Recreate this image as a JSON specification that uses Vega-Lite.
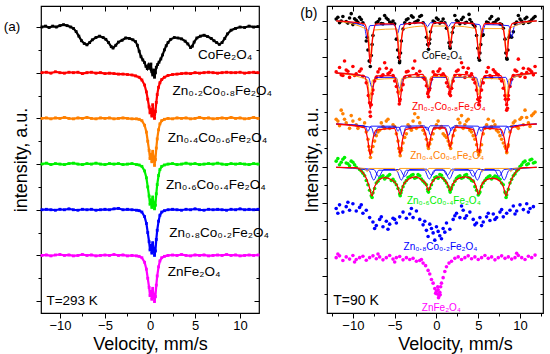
{
"$schema": "https://vega.github.io/schema/vega-lite/v6.json",
"padding": {"left": 3, "top": 4, "right": 2, "bottom": 2},
"background": "white",
"bounds": "flush",
"spacing": 68,
"config": {
 "font": "Liberation Sans",
 "view": {"stroke": "#000", "strokeWidth": 1.2},
 "axis": {"grid": false, "domain": false, "tickColor": "#000", "tickWidth": 1, "labelColor": "#000", "labelFontSize": 13, "labelFont": "Liberation Sans", "titleFont": "Liberation Sans", "titleFontSize": 18, "titleFontWeight": "normal", "titleColor": "#000", "labelPadding": 1, "labelFlush": false}
},
"datasets": {
"L": [
{"s":"k","x":-12,"y":6.0},{"s":"k","x":-11.6,"y":6.02},{"s":"k","x":-11.2,"y":5.99},{"s":"k","x":-10.8,"y":6.02},{"s":"k","x":-10.4,"y":6.0},{"s":"k","x":-10,"y":6.03},{"s":"k","x":-9.6,"y":6.05},{"s":"k","x":-9.2,"y":6.03},{"s":"k","x":-8.8,"y":6.0},{"s":"k","x":-8.5,"y":5.97},{"s":"k","x":-8.2,"y":5.9},{"s":"k","x":-7.9,"y":5.8},{"s":"k","x":-7.6,"y":5.7},{"s":"k","x":-7.3,"y":5.64},{"s":"k","x":-7,"y":5.61},{"s":"k","x":-6.7,"y":5.66},{"s":"k","x":-6.4,"y":5.72},{"s":"k","x":-6,"y":5.77},{"s":"k","x":-5.6,"y":5.8},{"s":"k","x":-5.2,"y":5.77},{"s":"k","x":-4.9,"y":5.73},{"s":"k","x":-4.6,"y":5.66},{"s":"k","x":-4.3,"y":5.57},{"s":"k","x":-4.1,"y":5.54},{"s":"k","x":-3.8,"y":5.6},{"s":"k","x":-3.5,"y":5.67},{"s":"k","x":-3.1,"y":5.71},{"s":"k","x":-2.7,"y":5.76},{"s":"k","x":-2.3,"y":5.75},{"s":"k","x":-1.9,"y":5.72},{"s":"k","x":-1.6,"y":5.68},{"s":"k","x":-1.4,"y":5.6},{"s":"k","x":-1.2,"y":5.47},{"s":"k","x":-1,"y":5.35},{"s":"k","x":-0.8,"y":5.28},{"s":"k","x":-0.6,"y":5.22},{"s":"k","x":-0.45,"y":5.14},{"s":"k","x":-0.3,"y":5.09},{"s":"k","x":-0.15,"y":5.17},{"s":"k","x":0,"y":5.1},{"s":"k","x":0.1,"y":5.19},{"s":"k","x":0.2,"y":5.02},{"s":"k","x":0.3,"y":4.95},{"s":"k","x":0.4,"y":5.06},{"s":"k","x":0.5,"y":4.9},{"s":"k","x":0.6,"y":5.0},{"s":"k","x":0.7,"y":5.12},{"s":"k","x":0.85,"y":5.18},{"s":"k","x":1,"y":5.23},{"s":"k","x":1.2,"y":5.3},{"s":"k","x":1.4,"y":5.39},{"s":"k","x":1.6,"y":5.5},{"s":"k","x":1.8,"y":5.59},{"s":"k","x":2,"y":5.66},{"s":"k","x":2.3,"y":5.73},{"s":"k","x":2.7,"y":5.77},{"s":"k","x":3.1,"y":5.76},{"s":"k","x":3.5,"y":5.74},{"s":"k","x":3.9,"y":5.69},{"s":"k","x":4.2,"y":5.63},{"s":"k","x":4.5,"y":5.55},{"s":"k","x":4.7,"y":5.58},{"s":"k","x":4.9,"y":5.67},{"s":"k","x":5.2,"y":5.76},{"s":"k","x":5.6,"y":5.8},{"s":"k","x":6,"y":5.82},{"s":"k","x":6.4,"y":5.79},{"s":"k","x":6.8,"y":5.75},{"s":"k","x":7.1,"y":5.7},{"s":"k","x":7.4,"y":5.66},{"s":"k","x":7.7,"y":5.62},{"s":"k","x":8,"y":5.66},{"s":"k","x":8.3,"y":5.75},{"s":"k","x":8.6,"y":5.85},{"s":"k","x":9,"y":5.93},{"s":"k","x":9.5,"y":5.97},{"s":"k","x":10,"y":6.0},{"s":"k","x":10.5,"y":5.99},{"s":"k","x":11,"y":6.02},{"s":"k","x":11.5,"y":6.0},{"s":"k","x":12,"y":6.01},
{"s":"r","x":-12,"y":5.0},{"s":"r","x":-11.5,"y":5.01},{"s":"r","x":-11,"y":4.99},{"s":"r","x":-10.5,"y":5.02},{"s":"r","x":-10,"y":5.0},{"s":"r","x":-9.5,"y":4.99},{"s":"r","x":-9,"y":5.01},{"s":"r","x":-8.5,"y":5.0},{"s":"r","x":-8,"y":5.01},{"s":"r","x":-7.5,"y":4.98},{"s":"r","x":-7,"y":5.0},{"s":"r","x":-6.5,"y":5.01},{"s":"r","x":-6,"y":4.99},{"s":"r","x":-5.5,"y":5.0},{"s":"r","x":-5,"y":4.98},{"s":"r","x":-4.5,"y":4.99},{"s":"r","x":-4,"y":4.98},{"s":"r","x":-3.5,"y":4.97},{"s":"r","x":-3,"y":4.97},{"s":"r","x":-2.5,"y":4.96},{"s":"r","x":-2,"y":4.95},{"s":"r","x":-1.6,"y":4.93},{"s":"r","x":-1.2,"y":4.9},{"s":"r","x":-0.9,"y":4.84},{"s":"r","x":-0.6,"y":4.73},{"s":"r","x":-0.4,"y":4.58},{"s":"r","x":-0.25,"y":4.42},{"s":"r","x":-0.1,"y":4.25},{"s":"r","x":0,"y":4.12},{"s":"r","x":0.1,"y":4.2},{"s":"r","x":0.2,"y":4.05},{"s":"r","x":0.3,"y":4.3},{"s":"r","x":0.4,"y":4.1},{"s":"r","x":0.5,"y":4.0},{"s":"r","x":0.6,"y":4.15},{"s":"r","x":0.7,"y":4.35},{"s":"r","x":0.8,"y":4.52},{"s":"r","x":0.95,"y":4.68},{"s":"r","x":1.1,"y":4.78},{"s":"r","x":1.3,"y":4.85},{"s":"r","x":1.6,"y":4.9},{"s":"r","x":2,"y":4.94},{"s":"r","x":2.5,"y":4.96},{"s":"r","x":3,"y":4.97},{"s":"r","x":3.5,"y":4.98},{"s":"r","x":4,"y":4.99},{"s":"r","x":4.5,"y":4.98},{"s":"r","x":5,"y":5.0},{"s":"r","x":5.5,"y":4.99},{"s":"r","x":6,"y":5.0},{"s":"r","x":6.5,"y":5.01},{"s":"r","x":7,"y":5.0},{"s":"r","x":7.5,"y":4.99},{"s":"r","x":8,"y":5.0},{"s":"r","x":8.5,"y":5.01},{"s":"r","x":9,"y":5.0},{"s":"r","x":9.5,"y":5.0},{"s":"r","x":10,"y":5.01},{"s":"r","x":10.5,"y":4.99},{"s":"r","x":11,"y":5.0},{"s":"r","x":11.5,"y":5.01},{"s":"r","x":12,"y":5.0},
{"s":"o","x":-12,"y":4.0},{"s":"o","x":-11.5,"y":4.01},{"s":"o","x":-11,"y":3.99},{"s":"o","x":-10.5,"y":4.01},{"s":"o","x":-10,"y":4.0},{"s":"o","x":-9.5,"y":4.02},{"s":"o","x":-9,"y":4.0},{"s":"o","x":-8.5,"y":3.99},{"s":"o","x":-8,"y":4.01},{"s":"o","x":-7.5,"y":4.0},{"s":"o","x":-7,"y":4.02},{"s":"o","x":-6.5,"y":4.0},{"s":"o","x":-6,"y":3.99},{"s":"o","x":-5.5,"y":4.01},{"s":"o","x":-5,"y":4.0},{"s":"o","x":-4.5,"y":4.01},{"s":"o","x":-4,"y":3.99},{"s":"o","x":-3.5,"y":4.0},{"s":"o","x":-3,"y":4.01},{"s":"o","x":-2.5,"y":4.0},{"s":"o","x":-2,"y":3.99},{"s":"o","x":-1.5,"y":3.99},{"s":"o","x":-1.2,"y":3.98},{"s":"o","x":-0.9,"y":3.95},{"s":"o","x":-0.6,"y":3.85},{"s":"o","x":-0.4,"y":3.7},{"s":"o","x":-0.25,"y":3.5},{"s":"o","x":-0.1,"y":3.3},{"s":"o","x":0,"y":3.12},{"s":"o","x":0.1,"y":3.22},{"s":"o","x":0.2,"y":3.05},{"s":"o","x":0.3,"y":3.28},{"s":"o","x":0.4,"y":3.15},{"s":"o","x":0.5,"y":2.97},{"s":"o","x":0.6,"y":3.1},{"s":"o","x":0.7,"y":3.35},{"s":"o","x":0.8,"y":3.55},{"s":"o","x":0.95,"y":3.75},{"s":"o","x":1.1,"y":3.88},{"s":"o","x":1.3,"y":3.95},{"s":"o","x":1.6,"y":3.98},{"s":"o","x":2,"y":4.0},{"s":"o","x":2.5,"y":3.99},{"s":"o","x":3,"y":4.01},{"s":"o","x":3.5,"y":4.0},{"s":"o","x":4,"y":4.01},{"s":"o","x":4.5,"y":3.99},{"s":"o","x":5,"y":4.0},{"s":"o","x":5.5,"y":4.02},{"s":"o","x":6,"y":4.0},{"s":"o","x":6.5,"y":4.01},{"s":"o","x":7,"y":3.99},{"s":"o","x":7.5,"y":4.0},{"s":"o","x":8,"y":4.01},{"s":"o","x":8.5,"y":4.0},{"s":"o","x":9,"y":4.02},{"s":"o","x":9.5,"y":4.0},{"s":"o","x":10,"y":4.01},{"s":"o","x":10.5,"y":3.99},{"s":"o","x":11,"y":4.0},{"s":"o","x":11.5,"y":4.02},{"s":"o","x":12,"y":4.0},
{"s":"g","x":-12,"y":3.0},{"s":"g","x":-11.5,"y":3.02},{"s":"g","x":-11,"y":2.99},{"s":"g","x":-10.5,"y":3.01},{"s":"g","x":-10,"y":3.0},{"s":"g","x":-9.5,"y":2.99},{"s":"g","x":-9,"y":3.01},{"s":"g","x":-8.5,"y":3.02},{"s":"g","x":-8,"y":3.0},{"s":"g","x":-7.5,"y":2.99},{"s":"g","x":-7,"y":3.01},{"s":"g","x":-6.5,"y":3.0},{"s":"g","x":-6,"y":3.02},{"s":"g","x":-5.5,"y":3.0},{"s":"g","x":-5,"y":2.99},{"s":"g","x":-4.5,"y":3.01},{"s":"g","x":-4,"y":3.0},{"s":"g","x":-3.5,"y":3.01},{"s":"g","x":-3,"y":2.99},{"s":"g","x":-2.5,"y":3.0},{"s":"g","x":-2,"y":3.01},{"s":"g","x":-1.5,"y":2.99},{"s":"g","x":-1.2,"y":2.98},{"s":"g","x":-0.9,"y":2.95},{"s":"g","x":-0.6,"y":2.85},{"s":"g","x":-0.4,"y":2.7},{"s":"g","x":-0.25,"y":2.5},{"s":"g","x":-0.1,"y":2.3},{"s":"g","x":0,"y":2.12},{"s":"g","x":0.1,"y":2.22},{"s":"g","x":0.2,"y":2.05},{"s":"g","x":0.3,"y":2.28},{"s":"g","x":0.4,"y":2.15},{"s":"g","x":0.5,"y":2.02},{"s":"g","x":0.6,"y":2.1},{"s":"g","x":0.7,"y":2.35},{"s":"g","x":0.8,"y":2.55},{"s":"g","x":0.95,"y":2.75},{"s":"g","x":1.1,"y":2.88},{"s":"g","x":1.3,"y":2.95},{"s":"g","x":1.6,"y":2.98},{"s":"g","x":2,"y":3.0},{"s":"g","x":2.5,"y":3.01},{"s":"g","x":3,"y":2.99},{"s":"g","x":3.5,"y":3.0},{"s":"g","x":4,"y":3.02},{"s":"g","x":4.5,"y":3.0},{"s":"g","x":5,"y":3.01},{"s":"g","x":5.5,"y":2.99},{"s":"g","x":6,"y":3.0},{"s":"g","x":6.5,"y":3.01},{"s":"g","x":7,"y":3.0},{"s":"g","x":7.5,"y":3.02},{"s":"g","x":8,"y":3.0},{"s":"g","x":8.5,"y":2.99},{"s":"g","x":9,"y":3.01},{"s":"g","x":9.5,"y":3.0},{"s":"g","x":10,"y":3.01},{"s":"g","x":10.5,"y":3.0},{"s":"g","x":11,"y":2.99},{"s":"g","x":11.5,"y":3.01},{"s":"g","x":12,"y":3.0},
{"s":"b","x":-12,"y":2.0},{"s":"b","x":-11.5,"y":2.01},{"s":"b","x":-11,"y":2.0},{"s":"b","x":-10.5,"y":1.99},{"s":"b","x":-10,"y":2.01},{"s":"b","x":-9.5,"y":2.0},{"s":"b","x":-9,"y":2.02},{"s":"b","x":-8.5,"y":2.0},{"s":"b","x":-8,"y":1.99},{"s":"b","x":-7.5,"y":2.01},{"s":"b","x":-7,"y":2.0},{"s":"b","x":-6.5,"y":2.01},{"s":"b","x":-6,"y":1.99},{"s":"b","x":-5.5,"y":2.0},{"s":"b","x":-5,"y":2.01},{"s":"b","x":-4.5,"y":2.0},{"s":"b","x":-4,"y":2.02},{"s":"b","x":-3.5,"y":2.03},{"s":"b","x":-3,"y":2.0},{"s":"b","x":-2.5,"y":2.01},{"s":"b","x":-2,"y":2.0},{"s":"b","x":-1.5,"y":1.99},{"s":"b","x":-1.2,"y":1.98},{"s":"b","x":-0.9,"y":1.95},{"s":"b","x":-0.6,"y":1.85},{"s":"b","x":-0.4,"y":1.7},{"s":"b","x":-0.25,"y":1.5},{"s":"b","x":-0.1,"y":1.3},{"s":"b","x":0,"y":1.12},{"s":"b","x":0.1,"y":1.22},{"s":"b","x":0.2,"y":1.05},{"s":"b","x":0.3,"y":1.28},{"s":"b","x":0.4,"y":1.15},{"s":"b","x":0.5,"y":1.0},{"s":"b","x":0.6,"y":1.1},{"s":"b","x":0.7,"y":1.35},{"s":"b","x":0.8,"y":1.55},{"s":"b","x":0.95,"y":1.75},{"s":"b","x":1.1,"y":1.88},{"s":"b","x":1.3,"y":1.95},{"s":"b","x":1.6,"y":1.98},{"s":"b","x":2,"y":2.0},{"s":"b","x":2.5,"y":2.01},{"s":"b","x":3,"y":2.0},{"s":"b","x":3.5,"y":1.99},{"s":"b","x":4,"y":2.01},{"s":"b","x":4.5,"y":2.0},{"s":"b","x":5,"y":2.02},{"s":"b","x":5.5,"y":2.0},{"s":"b","x":6,"y":1.99},{"s":"b","x":6.5,"y":2.01},{"s":"b","x":7,"y":2.0},{"s":"b","x":7.5,"y":2.01},{"s":"b","x":8,"y":2.0},{"s":"b","x":8.5,"y":1.99},{"s":"b","x":9,"y":2.01},{"s":"b","x":9.5,"y":2.0},{"s":"b","x":10,"y":2.02},{"s":"b","x":10.5,"y":2.0},{"s":"b","x":11,"y":2.01},{"s":"b","x":11.5,"y":2.0},{"s":"b","x":12,"y":2.01},
{"s":"m","x":-12,"y":1.0},{"s":"m","x":-11.5,"y":1.01},{"s":"m","x":-11,"y":0.99},{"s":"m","x":-10.5,"y":1.01},{"s":"m","x":-10,"y":1.02},{"s":"m","x":-9.5,"y":1.0},{"s":"m","x":-9,"y":1.01},{"s":"m","x":-8.5,"y":0.99},{"s":"m","x":-8,"y":1.0},{"s":"m","x":-7.5,"y":1.02},{"s":"m","x":-7,"y":1.0},{"s":"m","x":-6.5,"y":1.01},{"s":"m","x":-6,"y":0.99},{"s":"m","x":-5.5,"y":1.0},{"s":"m","x":-5,"y":1.01},{"s":"m","x":-4.5,"y":1.0},{"s":"m","x":-4,"y":1.02},{"s":"m","x":-3.5,"y":1.0},{"s":"m","x":-3,"y":1.01},{"s":"m","x":-2.5,"y":0.99},{"s":"m","x":-2,"y":1.0},{"s":"m","x":-1.5,"y":0.99},{"s":"m","x":-1.2,"y":0.98},{"s":"m","x":-0.9,"y":0.95},{"s":"m","x":-0.6,"y":0.85},{"s":"m","x":-0.4,"y":0.7},{"s":"m","x":-0.25,"y":0.5},{"s":"m","x":-0.1,"y":0.3},{"s":"m","x":0,"y":0.12},{"s":"m","x":0.1,"y":0.22},{"s":"m","x":0.2,"y":0.04},{"s":"m","x":0.3,"y":0.28},{"s":"m","x":0.4,"y":0.14},{"s":"m","x":0.5,"y":-0.01},{"s":"m","x":0.6,"y":0.1},{"s":"m","x":0.7,"y":0.35},{"s":"m","x":0.8,"y":0.55},{"s":"m","x":0.95,"y":0.75},{"s":"m","x":1.1,"y":0.88},{"s":"m","x":1.3,"y":0.95},{"s":"m","x":1.6,"y":0.98},{"s":"m","x":2,"y":1.0},{"s":"m","x":2.5,"y":1.01},{"s":"m","x":3,"y":1.0},{"s":"m","x":3.5,"y":1.02},{"s":"m","x":4,"y":1.0},{"s":"m","x":4.5,"y":0.99},{"s":"m","x":5,"y":1.01},{"s":"m","x":5.5,"y":1.0},{"s":"m","x":6,"y":1.01},{"s":"m","x":6.5,"y":0.99},{"s":"m","x":7,"y":1.0},{"s":"m","x":7.5,"y":1.01},{"s":"m","x":8,"y":1.0},{"s":"m","x":8.5,"y":1.02},{"s":"m","x":9,"y":1.0},{"s":"m","x":9.5,"y":1.01},{"s":"m","x":10,"y":0.99},{"s":"m","x":10.5,"y":1.0},{"s":"m","x":11,"y":1.01},{"s":"m","x":11.5,"y":1.0},{"s":"m","x":12,"y":1.01}
],
"LL": [
{"t":"CoFe₂O₄","x":5.33,"y":5.38},{"t":"Zn₀.₂Co₀.₈Fe₂O₄","x":2.5,"y":4.59},{"t":"Zn₀.₄Co₀.₆Fe₂O₄","x":1.96,"y":3.57},{"t":"Zn₀.₆Co₀.₄Fe₂O₄","x":1.78,"y":2.55},{"t":"Zn₀.₈Co₀.₂Fe₂O₄","x":2.15,"y":1.5},{"t":"ZnFe₂O₄","x":1.96,"y":0.63},{"t":"T=293 K","x":-11.5,"y":0.0},{"t":"(a)","x":-16.24,"y":6.0}
],
"RP": [
{"s":"k","x":-12,"y":7.05},{"s":"k","x":-11.6,"y":6.95},{"s":"k","x":-11.2,"y":7.12},{"s":"k","x":-10.8,"y":6.98},{"s":"k","x":-10.4,"y":7.08},{"s":"k","x":-10,"y":6.9},{"s":"k","x":-9.6,"y":7.02},{"s":"k","x":-9.2,"y":7.1},{"s":"k","x":-8.8,"y":6.95},{"s":"k","x":-8.4,"y":6.45},{"s":"k","x":-8,"y":5.9},{"s":"k","x":-7.6,"y":6.6},{"s":"k","x":-7.2,"y":6.95},{"s":"k","x":-6.8,"y":7.05},{"s":"k","x":-6.4,"y":6.92},{"s":"k","x":-6,"y":7.08},{"s":"k","x":-5.6,"y":6.97},{"s":"k","x":-5.2,"y":7.0},{"s":"k","x":-4.8,"y":6.5},{"s":"k","x":-4.4,"y":5.9},{"s":"k","x":-4,"y":6.78},{"s":"k","x":-3.6,"y":7.03},{"s":"k","x":-3.2,"y":6.93},{"s":"k","x":-2.8,"y":7.1},{"s":"k","x":-2.4,"y":6.98},{"s":"k","x":-2,"y":7.12},{"s":"k","x":-1.6,"y":6.95},{"s":"k","x":-1.2,"y":6.55},{"s":"k","x":-0.8,"y":6.5},{"s":"k","x":-0.4,"y":7.0},{"s":"k","x":0,"y":7.08},{"s":"k","x":0.4,"y":6.94},{"s":"k","x":0.8,"y":7.05},{"s":"k","x":1.2,"y":6.8},{"s":"k","x":1.6,"y":6.3},{"s":"k","x":2,"y":6.82},{"s":"k","x":2.4,"y":7.02},{"s":"k","x":2.8,"y":6.92},{"s":"k","x":3.2,"y":7.1},{"s":"k","x":3.6,"y":6.96},{"s":"k","x":4,"y":7.04},{"s":"k","x":4.4,"y":6.9},{"s":"k","x":4.8,"y":6.6},{"s":"k","x":5.2,"y":6.12},{"s":"k","x":5.6,"y":6.62},{"s":"k","x":6,"y":6.97},{"s":"k","x":6.4,"y":7.06},{"s":"k","x":6.8,"y":6.95},{"s":"k","x":7.2,"y":7.02},{"s":"k","x":7.6,"y":6.92},{"s":"k","x":8,"y":6.8},{"s":"k","x":8.4,"y":5.98},{"s":"k","x":8.8,"y":6.6},{"s":"k","x":9.2,"y":6.7},{"s":"k","x":9.6,"y":6.97},{"s":"k","x":10,"y":7.05},{"s":"k","x":10.4,"y":6.93},{"s":"k","x":10.8,"y":7.1},{"s":"k","x":11.2,"y":6.98},{"s":"k","x":11.6,"y":7.08},
{"s":"k","x":-8.2,"y":6.2},{"s":"k","x":-8.05,"y":5.9},{"s":"k","x":-7.92,"y":5.75},{"s":"k","x":-7.8,"y":6.05},{"s":"k","x":-7.7,"y":6.35},{"s":"k","x":-4.65,"y":6.2},{"s":"k","x":-4.52,"y":6.0},{"s":"k","x":-4.42,"y":5.85},{"s":"k","x":-4.3,"y":6.12},{"s":"k","x":-4.2,"y":6.45},{"s":"k","x":-1.05,"y":6.35},{"s":"k","x":-0.95,"y":6.22},{"s":"k","x":-0.85,"y":6.38},{"s":"k","x":-0.7,"y":6.7},{"s":"k","x":1.5,"y":6.4},{"s":"k","x":1.64,"y":6.25},{"s":"k","x":1.75,"y":6.42},{"s":"k","x":1.9,"y":6.68},{"s":"k","x":4.95,"y":6.25},{"s":"k","x":5.05,"y":5.98},{"s":"k","x":5.15,"y":5.92},{"s":"k","x":5.3,"y":6.35},{"s":"k","x":8.2,"y":6.5},{"s":"k","x":8.3,"y":6.12},{"s":"k","x":8.45,"y":5.95},{"s":"k","x":8.55,"y":6.2},{"s":"k","x":8.7,"y":6.55},{"s":"k","x":9,"y":6.55},{"s":"k","x":-8.3,"y":6.55},{"s":"k","x":5.5,"y":6.6},{"s":"k","x":-10.2,"y":7.2},{"s":"k","x":3.9,"y":7.18},{"s":"k","x":-1.8,"y":7.15},{"s":"k","x":-11.8,"y":7.1},{"s":"k","x":11.8,"y":7.12},{"s":"k","x":-6.2,"y":7.15},{"s":"k","x":2.2,"y":7.15},{"s":"k","x":6.6,"y":7.12},{"s":"k","x":-3,"y":7.14},{"s":"k","x":9.8,"y":7.15},
{"s":"k","x":-11.4,"y":7.0},{"s":"k","x":-10.6,"y":6.94},{"s":"k","x":-9.8,"y":7.06},{"s":"k","x":-9.4,"y":6.96},{"s":"k","x":-9,"y":7.04},{"s":"k","x":-7,"y":6.98},{"s":"k","x":-6.6,"y":6.93},{"s":"k","x":-5.8,"y":7.04},{"s":"k","x":-5.4,"y":6.94},{"s":"k","x":-5,"y":6.92},{"s":"k","x":-3.8,"y":6.95},{"s":"k","x":-3.4,"y":7.06},{"s":"k","x":-2.6,"y":6.96},{"s":"k","x":-2.2,"y":7.02},{"s":"k","x":-0.2,"y":6.96},{"s":"k","x":0.2,"y":7.04},{"s":"k","x":0.6,"y":6.97},{"s":"k","x":1,"y":6.95},{"s":"k","x":2.6,"y":6.98},{"s":"k","x":3,"y":7.04},{"s":"k","x":3.4,"y":6.94},{"s":"k","x":4.2,"y":6.96},{"s":"k","x":4.6,"y":6.85},{"s":"k","x":6.2,"y":6.95},{"s":"k","x":7,"y":6.96},{"s":"k","x":7.4,"y":7.05},{"s":"k","x":7.8,"y":6.9},{"s":"k","x":9.4,"y":6.93},{"s":"k","x":10.2,"y":7.0},{"s":"k","x":10.6,"y":7.06},{"s":"k","x":11,"y":6.96},{"s":"k","x":11.4,"y":7.03},
{"s":"r","x":-12,"y":5.6},{"s":"r","x":-11.6,"y":5.72},{"s":"r","x":-11.2,"y":5.5},{"s":"r","x":-10.8,"y":5.65},{"s":"r","x":-10.4,"y":5.45},{"s":"r","x":-10,"y":5.75},{"s":"r","x":-9.6,"y":5.55},{"s":"r","x":-9.2,"y":5.62},{"s":"r","x":-8.8,"y":5.48},{"s":"r","x":-8.4,"y":5.3},{"s":"r","x":-8,"y":4.75},{"s":"r","x":-7.6,"y":5.1},{"s":"r","x":-7.2,"y":5.45},{"s":"r","x":-6.8,"y":5.68},{"s":"r","x":-6.4,"y":5.52},{"s":"r","x":-6,"y":5.7},{"s":"r","x":-5.6,"y":5.58},{"s":"r","x":-5.2,"y":5.5},{"s":"r","x":-4.8,"y":5.2},{"s":"r","x":-4.4,"y":4.8},{"s":"r","x":-4,"y":5.25},{"s":"r","x":-3.6,"y":5.6},{"s":"r","x":-3.2,"y":5.48},{"s":"r","x":-2.8,"y":5.7},{"s":"r","x":-2.4,"y":5.55},{"s":"r","x":-2,"y":5.62},{"s":"r","x":-1.6,"y":5.45},{"s":"r","x":-1.2,"y":5.22},{"s":"r","x":-0.8,"y":5.15},{"s":"r","x":-0.4,"y":5.6},{"s":"r","x":0,"y":5.5},{"s":"r","x":0.4,"y":5.68},{"s":"r","x":0.8,"y":5.55},{"s":"r","x":1.2,"y":5.3},{"s":"r","x":1.6,"y":5.05},{"s":"r","x":2,"y":5.35},{"s":"r","x":2.4,"y":5.62},{"s":"r","x":2.8,"y":5.5},{"s":"r","x":3.2,"y":5.72},{"s":"r","x":3.6,"y":5.58},{"s":"r","x":4,"y":5.48},{"s":"r","x":4.4,"y":5.4},{"s":"r","x":4.8,"y":5.1},{"s":"r","x":5.2,"y":4.9},{"s":"r","x":5.6,"y":5.3},{"s":"r","x":6,"y":5.6},{"s":"r","x":6.4,"y":5.5},{"s":"r","x":6.8,"y":5.66},{"s":"r","x":7.2,"y":5.55},{"s":"r","x":7.6,"y":5.42},{"s":"r","x":8,"y":5.15},{"s":"r","x":8.4,"y":4.7},{"s":"r","x":8.8,"y":5.2},{"s":"r","x":9.2,"y":5.5},{"s":"r","x":9.6,"y":5.62},{"s":"r","x":10,"y":5.48},{"s":"r","x":10.4,"y":5.7},{"s":"r","x":10.8,"y":5.58},{"s":"r","x":11.2,"y":5.65},{"s":"r","x":11.6,"y":5.52},
{"s":"r","x":-8.15,"y":4.95},{"s":"r","x":-7.95,"y":4.5},{"s":"r","x":-7.9,"y":4.38},{"s":"r","x":-7.8,"y":4.7},{"s":"r","x":-7.7,"y":5.0},{"s":"r","x":-4.6,"y":5.05},{"s":"r","x":-4.45,"y":4.72},{"s":"r","x":-4.35,"y":4.85},{"s":"r","x":-4.2,"y":5.1},{"s":"r","x":-1.05,"y":5.0},{"s":"r","x":-0.95,"y":4.92},{"s":"r","x":-0.85,"y":5.1},{"s":"r","x":1.55,"y":5.0},{"s":"r","x":1.68,"y":4.95},{"s":"r","x":1.8,"y":5.15},{"s":"r","x":4.95,"y":4.85},{"s":"r","x":5.06,"y":4.7},{"s":"r","x":5.15,"y":4.8},{"s":"r","x":8.25,"y":4.85},{"s":"r","x":8.4,"y":4.55},{"s":"r","x":8.5,"y":4.6},{"s":"r","x":8.6,"y":4.95},{"s":"r","x":-11,"y":5.9},{"s":"r","x":9.8,"y":5.95},{"s":"r","x":3,"y":5.85},{"s":"r","x":-6.2,"y":5.85},{"s":"r","x":-2.6,"y":5.9},
{"s":"r","x":-11.4,"y":5.52},{"s":"r","x":-10.6,"y":5.62},{"s":"r","x":-9.8,"y":5.5},{"s":"r","x":-9,"y":5.68},{"s":"r","x":-7.4,"y":5.35},{"s":"r","x":-7,"y":5.6},{"s":"r","x":-6.6,"y":5.48},{"s":"r","x":-5.8,"y":5.55},{"s":"r","x":-5.4,"y":5.65},{"s":"r","x":-5,"y":5.35},{"s":"r","x":-3.8,"y":5.45},{"s":"r","x":-3.4,"y":5.62},{"s":"r","x":-2.2,"y":5.48},{"s":"r","x":-1.4,"y":5.4},{"s":"r","x":-1,"y":5.05},{"s":"r","x":-0.6,"y":5.4},{"s":"r","x":-0.2,"y":5.52},{"s":"r","x":0.2,"y":5.62},{"s":"r","x":0.6,"y":5.5},{"s":"r","x":1,"y":5.48},{"s":"r","x":1.4,"y":5.2},{"s":"r","x":1.8,"y":5.15},{"s":"r","x":2.2,"y":5.5},{"s":"r","x":2.6,"y":5.65},{"s":"r","x":3.4,"y":5.45},{"s":"r","x":3.8,"y":5.7},{"s":"r","x":4.2,"y":5.55},{"s":"r","x":4.6,"y":5.3},{"s":"r","x":5.4,"y":5.1},{"s":"r","x":5.8,"y":5.45},{"s":"r","x":6.2,"y":5.72},{"s":"r","x":6.6,"y":5.45},{"s":"r","x":7,"y":5.6},{"s":"r","x":7.4,"y":5.52},{"s":"r","x":7.8,"y":5.35},{"s":"r","x":8.2,"y":4.95},{"s":"r","x":8.6,"y":4.85},{"s":"r","x":9,"y":5.4},{"s":"r","x":9.4,"y":5.65},{"s":"r","x":10.2,"y":5.55},{"s":"r","x":10.6,"y":5.45},{"s":"r","x":11,"y":5.68},{"s":"r","x":11.4,"y":5.6},{"s":"r","x":11.8,"y":5.75},
{"s":"o","x":-12,"y":4.3},{"s":"o","x":-11.6,"y":4.12},{"s":"o","x":-11.2,"y":4.45},{"s":"o","x":-10.8,"y":4.2},{"s":"o","x":-10.4,"y":4.05},{"s":"o","x":-10,"y":4.25},{"s":"o","x":-9.6,"y":4.15},{"s":"o","x":-9.2,"y":4.3},{"s":"o","x":-8.8,"y":4.1},{"s":"o","x":-8.4,"y":3.95},{"s":"o","x":-8,"y":3.45},{"s":"o","x":-7.6,"y":3.55},{"s":"o","x":-7.2,"y":3.85},{"s":"o","x":-6.8,"y":4.0},{"s":"o","x":-6.4,"y":4.1},{"s":"o","x":-6,"y":4.25},{"s":"o","x":-5.6,"y":4.05},{"s":"o","x":-5.2,"y":4.15},{"s":"o","x":-4.8,"y":3.9},{"s":"o","x":-4.4,"y":3.4},{"s":"o","x":-4,"y":3.65},{"s":"o","x":-3.6,"y":3.9},{"s":"o","x":-3.2,"y":4.1},{"s":"o","x":-2.8,"y":4.25},{"s":"o","x":-2.4,"y":4.05},{"s":"o","x":-2,"y":4.2},{"s":"o","x":-1.6,"y":4.0},{"s":"o","x":-1.2,"y":3.75},{"s":"o","x":-0.8,"y":3.62},{"s":"o","x":-0.4,"y":3.9},{"s":"o","x":0,"y":4.15},{"s":"o","x":0.4,"y":4.05},{"s":"o","x":0.8,"y":3.9},{"s":"o","x":1.2,"y":3.8},{"s":"o","x":1.6,"y":3.58},{"s":"o","x":2,"y":3.85},{"s":"o","x":2.4,"y":4.1},{"s":"o","x":2.8,"y":4.2},{"s":"o","x":3.2,"y":4.05},{"s":"o","x":3.6,"y":4.25},{"s":"o","x":4,"y":4.0},{"s":"o","x":4.4,"y":3.85},{"s":"o","x":4.8,"y":3.6},{"s":"o","x":5.2,"y":3.45},{"s":"o","x":5.6,"y":3.9},{"s":"o","x":6,"y":4.15},{"s":"o","x":6.4,"y":4.05},{"s":"o","x":6.8,"y":4.25},{"s":"o","x":7.2,"y":4.0},{"s":"o","x":7.6,"y":3.85},{"s":"o","x":8,"y":3.65},{"s":"o","x":8.4,"y":3.4},{"s":"o","x":8.8,"y":3.95},{"s":"o","x":9.2,"y":4.2},{"s":"o","x":9.6,"y":4.1},{"s":"o","x":10,"y":4.3},{"s":"o","x":10.4,"y":4.15},{"s":"o","x":10.8,"y":4.35},{"s":"o","x":11.2,"y":4.1},{"s":"o","x":11.6,"y":4.45},
{"s":"o","x":-8.1,"y":3.55},{"s":"o","x":-7.9,"y":3.25},{"s":"o","x":-7.75,"y":3.4},{"s":"o","x":-7.4,"y":3.7},{"s":"o","x":-4.5,"y":3.5},{"s":"o","x":-4.34,"y":3.3},{"s":"o","x":-4.2,"y":3.45},{"s":"o","x":-1.05,"y":3.6},{"s":"o","x":-0.95,"y":3.5},{"s":"o","x":-0.85,"y":3.65},{"s":"o","x":1.55,"y":3.6},{"s":"o","x":1.7,"y":3.5},{"s":"o","x":4.95,"y":3.45},{"s":"o","x":5.06,"y":3.32},{"s":"o","x":5.2,"y":3.4},{"s":"o","x":8.3,"y":3.5},{"s":"o","x":8.41,"y":3.38},{"s":"o","x":8.55,"y":3.55},{"s":"o","x":-11.4,"y":4.55},{"s":"o","x":10.6,"y":4.55},{"s":"o","x":-2.6,"y":4.45},{"s":"o","x":3,"y":4.4},
{"s":"o","x":-11.8,"y":4.25},{"s":"o","x":-11,"y":4.3},{"s":"o","x":-10.2,"y":4.4},{"s":"o","x":-9.4,"y":4.05},{"s":"o","x":-8.6,"y":4.2},{"s":"o","x":-8.2,"y":3.75},{"s":"o","x":-7,"y":3.95},{"s":"o","x":-6.6,"y":4.2},{"s":"o","x":-6.2,"y":4.05},{"s":"o","x":-5.8,"y":4.3},{"s":"o","x":-5,"y":4.1},{"s":"o","x":-4.6,"y":3.7},{"s":"o","x":-4.2,"y":3.5},{"s":"o","x":-3.8,"y":3.8},{"s":"o","x":-3.4,"y":4.15},{"s":"o","x":-3,"y":4.0},{"s":"o","x":-2.2,"y":4.35},{"s":"o","x":-1.8,"y":4.1},{"s":"o","x":-1.4,"y":3.9},{"s":"o","x":-1,"y":3.55},{"s":"o","x":-0.6,"y":3.75},{"s":"o","x":-0.2,"y":4.05},{"s":"o","x":0.2,"y":4.25},{"s":"o","x":0.6,"y":4.1},{"s":"o","x":1,"y":3.85},{"s":"o","x":1.4,"y":3.7},{"s":"o","x":1.8,"y":3.65},{"s":"o","x":2.2,"y":4.0},{"s":"o","x":2.6,"y":4.3},{"s":"o","x":3.4,"y":4.15},{"s":"o","x":3.8,"y":4.3},{"s":"o","x":4.2,"y":3.95},{"s":"o","x":4.6,"y":3.75},{"s":"o","x":5,"y":3.4},{"s":"o","x":5.4,"y":3.6},{"s":"o","x":5.8,"y":4.05},{"s":"o","x":6.2,"y":4.3},{"s":"o","x":6.6,"y":4.1},{"s":"o","x":7,"y":4.15},{"s":"o","x":7.4,"y":3.95},{"s":"o","x":7.8,"y":3.75},{"s":"o","x":8.2,"y":3.55},{"s":"o","x":8.6,"y":3.6},{"s":"o","x":9,"y":4.1},{"s":"o","x":9.4,"y":4.25},{"s":"o","x":9.8,"y":4.05},{"s":"o","x":10.2,"y":4.35},{"s":"o","x":11,"y":4.2},{"s":"o","x":11.4,"y":4.4},{"s":"o","x":11.8,"y":4.5},
{"s":"g","x":-12,"y":3.15},{"s":"g","x":-11.6,"y":3.05},{"s":"g","x":-11.2,"y":3.2},{"s":"g","x":-10.8,"y":3.1},{"s":"g","x":-10.4,"y":3.02},{"s":"g","x":-10,"y":3.12},{"s":"g","x":-9.6,"y":2.98},{"s":"g","x":-9.2,"y":2.92},{"s":"g","x":-8.8,"y":2.82},{"s":"g","x":-8.4,"y":2.62},{"s":"g","x":-8,"y":2.35},{"s":"g","x":-7.6,"y":2.28},{"s":"g","x":-7.2,"y":2.55},{"s":"g","x":-6.8,"y":2.68},{"s":"g","x":-6.4,"y":2.75},{"s":"g","x":-6,"y":2.7},{"s":"g","x":-5.6,"y":2.78},{"s":"g","x":-5.2,"y":2.65},{"s":"g","x":-4.8,"y":2.5},{"s":"g","x":-4.4,"y":2.25},{"s":"g","x":-4,"y":2.45},{"s":"g","x":-3.6,"y":2.62},{"s":"g","x":-3.2,"y":2.72},{"s":"g","x":-2.8,"y":2.78},{"s":"g","x":-2.4,"y":2.7},{"s":"g","x":-2,"y":2.75},{"s":"g","x":-1.6,"y":2.6},{"s":"g","x":-1.2,"y":2.5},{"s":"g","x":-0.8,"y":2.4},{"s":"g","x":-0.4,"y":2.62},{"s":"g","x":0,"y":2.72},{"s":"g","x":0.4,"y":2.78},{"s":"g","x":0.8,"y":2.68},{"s":"g","x":1.2,"y":2.55},{"s":"g","x":1.6,"y":2.35},{"s":"g","x":2,"y":2.5},{"s":"g","x":2.4,"y":2.68},{"s":"g","x":2.8,"y":2.75},{"s":"g","x":3.2,"y":2.7},{"s":"g","x":3.6,"y":2.78},{"s":"g","x":4,"y":2.68},{"s":"g","x":4.4,"y":2.6},{"s":"g","x":4.8,"y":2.35},{"s":"g","x":5.2,"y":2.3},{"s":"g","x":5.6,"y":2.55},{"s":"g","x":6,"y":2.68},{"s":"g","x":6.4,"y":2.75},{"s":"g","x":6.8,"y":2.7},{"s":"g","x":7.2,"y":2.72},{"s":"g","x":7.6,"y":2.65},{"s":"g","x":8,"y":2.5},{"s":"g","x":8.4,"y":2.22},{"s":"g","x":8.8,"y":2.55},{"s":"g","x":9.2,"y":2.75},{"s":"g","x":9.6,"y":2.88},{"s":"g","x":10,"y":3.0},{"s":"g","x":10.4,"y":3.12},{"s":"g","x":10.8,"y":3.05},{"s":"g","x":11.2,"y":3.18},{"s":"g","x":11.6,"y":3.1},
{"s":"g","x":-7.8,"y":2.2},{"s":"g","x":-7.7,"y":2.15},{"s":"g","x":-4.34,"y":2.2},{"s":"g","x":-4.25,"y":2.28},{"s":"g","x":-0.95,"y":2.3},{"s":"g","x":-1.05,"y":2.38},{"s":"g","x":1.64,"y":2.3},{"s":"g","x":1.75,"y":2.38},{"s":"g","x":5,"y":2.22},{"s":"g","x":5.1,"y":2.26},{"s":"g","x":8.33,"y":2.15},{"s":"g","x":8.25,"y":2.28},
{"s":"g","x":-11.8,"y":3.22},{"s":"g","x":-11.4,"y":3.12},{"s":"g","x":-11,"y":3.25},{"s":"g","x":-10.6,"y":3.08},{"s":"g","x":-10.2,"y":3.15},{"s":"g","x":-9.8,"y":3.05},{"s":"g","x":-9,"y":2.88},{"s":"g","x":-8.6,"y":2.75},{"s":"g","x":-8.2,"y":2.5},{"s":"g","x":-7.4,"y":2.4},{"s":"g","x":-7,"y":2.6},{"s":"g","x":-6.6,"y":2.72},{"s":"g","x":-6.2,"y":2.66},{"s":"g","x":-5.8,"y":2.74},{"s":"g","x":-5.4,"y":2.62},{"s":"g","x":-5,"y":2.58},{"s":"g","x":-4.6,"y":2.4},{"s":"g","x":-4.2,"y":2.35},{"s":"g","x":-3.8,"y":2.55},{"s":"g","x":-3.4,"y":2.7},{"s":"g","x":-3,"y":2.76},{"s":"g","x":-2.6,"y":2.68},{"s":"g","x":-2.2,"y":2.78},{"s":"g","x":-1.8,"y":2.66},{"s":"g","x":-1.4,"y":2.55},{"s":"g","x":-1,"y":2.32},{"s":"g","x":-0.6,"y":2.5},{"s":"g","x":-0.2,"y":2.7},{"s":"g","x":0.2,"y":2.68},{"s":"g","x":0.6,"y":2.76},{"s":"g","x":1,"y":2.62},{"s":"g","x":1.4,"y":2.45},{"s":"g","x":1.8,"y":2.42},{"s":"g","x":2.2,"y":2.6},{"s":"g","x":2.6,"y":2.72},{"s":"g","x":3,"y":2.68},{"s":"g","x":3.4,"y":2.76},{"s":"g","x":3.8,"y":2.7},{"s":"g","x":4.2,"y":2.62},{"s":"g","x":4.6,"y":2.45},{"s":"g","x":5.4,"y":2.45},{"s":"g","x":5.8,"y":2.62},{"s":"g","x":6.2,"y":2.72},{"s":"g","x":6.6,"y":2.66},{"s":"g","x":7,"y":2.74},{"s":"g","x":7.4,"y":2.68},{"s":"g","x":7.8,"y":2.55},{"s":"g","x":8.2,"y":2.3},{"s":"g","x":8.6,"y":2.38},{"s":"g","x":9,"y":2.65},{"s":"g","x":9.4,"y":2.8},{"s":"g","x":9.8,"y":2.92},{"s":"g","x":10.2,"y":3.05},{"s":"g","x":10.6,"y":3.15},{"s":"g","x":11,"y":3.08},{"s":"g","x":11.4,"y":3.2},{"s":"g","x":11.8,"y":3.12},
{"s":"b","x":-12,"y":1.85},{"s":"b","x":-11.6,"y":1.95},{"s":"b","x":-11.2,"y":1.75},{"s":"b","x":-10.8,"y":1.9},{"s":"b","x":-10.4,"y":1.8},{"s":"b","x":-10,"y":1.98},{"s":"b","x":-9.6,"y":1.78},{"s":"b","x":-9.2,"y":1.88},{"s":"b","x":-8.8,"y":1.72},{"s":"b","x":-8.4,"y":1.8},{"s":"b","x":-8,"y":1.6},{"s":"b","x":-7.6,"y":1.48},{"s":"b","x":-7.2,"y":1.38},{"s":"b","x":-6.8,"y":1.55},{"s":"b","x":-6.4,"y":1.35},{"s":"b","x":-6,"y":1.5},{"s":"b","x":-5.6,"y":1.42},{"s":"b","x":-5.2,"y":1.58},{"s":"b","x":-4.8,"y":1.45},{"s":"b","x":-4.4,"y":1.62},{"s":"b","x":-4,"y":1.75},{"s":"b","x":-3.6,"y":1.58},{"s":"b","x":-3.2,"y":1.7},{"s":"b","x":-2.8,"y":1.6},{"s":"b","x":-2.4,"y":1.78},{"s":"b","x":-2,"y":1.55},{"s":"b","x":-1.6,"y":1.4},{"s":"b","x":-1.2,"y":1.25},{"s":"b","x":-0.8,"y":1.42},{"s":"b","x":-0.4,"y":1.18},{"s":"b","x":0,"y":1.35},{"s":"b","x":0.4,"y":1.1},{"s":"b","x":0.8,"y":1.3},{"s":"b","x":1.2,"y":1.45},{"s":"b","x":1.6,"y":1.28},{"s":"b","x":2,"y":1.55},{"s":"b","x":2.4,"y":1.72},{"s":"b","x":2.8,"y":1.6},{"s":"b","x":3.2,"y":1.8},{"s":"b","x":3.6,"y":1.65},{"s":"b","x":4,"y":1.75},{"s":"b","x":4.4,"y":1.55},{"s":"b","x":4.8,"y":1.45},{"s":"b","x":5.2,"y":1.6},{"s":"b","x":5.6,"y":1.48},{"s":"b","x":6,"y":1.62},{"s":"b","x":6.4,"y":1.52},{"s":"b","x":6.8,"y":1.7},{"s":"b","x":7.2,"y":1.6},{"s":"b","x":7.6,"y":1.75},{"s":"b","x":8,"y":1.62},{"s":"b","x":8.4,"y":1.72},{"s":"b","x":8.8,"y":1.8},{"s":"b","x":9.2,"y":1.92},{"s":"b","x":9.6,"y":1.78},{"s":"b","x":10,"y":1.95},{"s":"b","x":10.4,"y":1.82},{"s":"b","x":10.8,"y":1.98},{"s":"b","x":11.2,"y":1.85},{"s":"b","x":11.6,"y":1.9},
{"s":"b","x":-11.8,"y":1.72},{"s":"b","x":-10.6,"y":2.02},{"s":"b","x":-9,"y":1.95},{"s":"b","x":-7.4,"y":1.3},{"s":"b","x":-6.6,"y":1.62},{"s":"b","x":-5.8,"y":1.28},{"s":"b","x":-5,"y":1.55},{"s":"b","x":-3,"y":1.85},{"s":"b","x":-1.4,"y":1.5},{"s":"b","x":-1,"y":1.08},{"s":"b","x":-0.6,"y":1.3},{"s":"b","x":-0.2,"y":0.98},{"s":"b","x":0.2,"y":1.22},{"s":"b","x":0.6,"y":1.02},{"s":"b","x":1,"y":1.2},{"s":"b","x":2.2,"y":1.65},{"s":"b","x":3,"y":1.92},{"s":"b","x":3.4,"y":1.58},{"s":"b","x":4.6,"y":1.4},{"s":"b","x":5.4,"y":1.38},{"s":"b","x":6.2,"y":1.72},{"s":"b","x":7,"y":1.55},{"s":"b","x":7.8,"y":1.82},{"s":"b","x":9.4,"y":1.7},{"s":"b","x":11,"y":1.75},
{"s":"m","x":-12,"y":0.5},{"s":"m","x":-11.6,"y":0.55},{"s":"m","x":-11.2,"y":0.42},{"s":"m","x":-10.8,"y":0.52},{"s":"m","x":-10.4,"y":0.46},{"s":"m","x":-10,"y":0.56},{"s":"m","x":-9.6,"y":0.45},{"s":"m","x":-9.2,"y":0.5},{"s":"m","x":-8.8,"y":0.54},{"s":"m","x":-8.4,"y":0.43},{"s":"m","x":-8,"y":0.5},{"s":"m","x":-7.6,"y":0.55},{"s":"m","x":-7.2,"y":0.47},{"s":"m","x":-6.8,"y":0.52},{"s":"m","x":-6.4,"y":0.44},{"s":"m","x":-6,"y":0.5},{"s":"m","x":-5.6,"y":0.56},{"s":"m","x":-5.2,"y":0.46},{"s":"m","x":-4.8,"y":0.5},{"s":"m","x":-4.4,"y":0.53},{"s":"m","x":-4,"y":0.44},{"s":"m","x":-3.6,"y":0.5},{"s":"m","x":-3.2,"y":0.45},{"s":"m","x":-2.8,"y":0.48},{"s":"m","x":-2.4,"y":0.4},{"s":"m","x":-2,"y":0.42},{"s":"m","x":-1.6,"y":0.35},{"s":"m","x":-1.3,"y":0.28},{"s":"m","x":-1,"y":0.15},{"s":"m","x":-0.8,"y":0.05},{"s":"m","x":-0.6,"y":-0.1},{"s":"m","x":-0.4,"y":-0.2},{"s":"m","x":-0.2,"y":-0.35},{"s":"m","x":0,"y":-0.42},{"s":"m","x":0.1,"y":-0.5},{"s":"m","x":0.2,"y":-0.38},{"s":"m","x":0.3,"y":-0.55},{"s":"m","x":0.4,"y":-0.45},{"s":"m","x":0.5,"y":-0.3},{"s":"m","x":0.6,"y":-0.2},{"s":"m","x":0.8,"y":-0.05},{"s":"m","x":1,"y":0.12},{"s":"m","x":1.2,"y":0.25},{"s":"m","x":1.5,"y":0.35},{"s":"m","x":1.8,"y":0.4},{"s":"m","x":2.2,"y":0.48},{"s":"m","x":2.6,"y":0.52},{"s":"m","x":3,"y":0.45},{"s":"m","x":3.4,"y":0.5},{"s":"m","x":3.8,"y":0.55},{"s":"m","x":4.2,"y":0.47},{"s":"m","x":4.6,"y":0.52},{"s":"m","x":5,"y":0.45},{"s":"m","x":5.4,"y":0.5},{"s":"m","x":5.8,"y":0.56},{"s":"m","x":6.2,"y":0.48},{"s":"m","x":6.6,"y":0.52},{"s":"m","x":7,"y":0.44},{"s":"m","x":7.4,"y":0.5},{"s":"m","x":7.8,"y":0.55},{"s":"m","x":8.2,"y":0.48},{"s":"m","x":8.6,"y":0.52},{"s":"m","x":9,"y":0.46},{"s":"m","x":9.4,"y":0.5},{"s":"m","x":9.8,"y":0.56},{"s":"m","x":10.2,"y":0.5},{"s":"m","x":10.6,"y":0.45},{"s":"m","x":11,"y":0.54},{"s":"m","x":11.4,"y":0.5},{"s":"m","x":11.8,"y":0.57},
{"s":"m","x":-11.8,"y":0.6},{"s":"m","x":-9.8,"y":0.38},{"s":"m","x":-7,"y":0.6},{"s":"m","x":-5,"y":0.38},{"s":"m","x":-1.8,"y":0.45},{"s":"m","x":0.25,"y":-0.6},{"s":"m","x":0.15,"y":-0.3},{"s":"m","x":-0.1,"y":-0.48},{"s":"m","x":0.45,"y":-0.52},{"s":"m","x":9.6,"y":0.62}
],
"FT": [
{"s":"kT","x":-12,"y":7.0},{"s":"kT","x":-8.62,"y":6.92},{"s":"kT","x":-8.17,"y":6.48},{"s":"kT","x":-7.92,"y":5.82},{"s":"kT","x":-7.67,"y":6.48},{"s":"kT","x":-7.22,"y":6.92},{"s":"kT","x":-5.12,"y":6.92},{"s":"kT","x":-4.67,"y":6.52},{"s":"kT","x":-4.42,"y":5.91},{"s":"kT","x":-4.17,"y":6.52},{"s":"kT","x":-3.72,"y":6.92},{"s":"kT","x":-1.65,"y":6.95},{"s":"kT","x":-1.2,"y":6.68},{"s":"kT","x":-0.95,"y":6.27},{"s":"kT","x":-0.7,"y":6.68},{"s":"kT","x":-0.25,"y":6.95},{"s":"kT","x":0.94,"y":6.95},{"s":"kT","x":1.39,"y":6.68},{"s":"kT","x":1.64,"y":6.27},{"s":"kT","x":1.89,"y":6.68},{"s":"kT","x":2.34,"y":6.95},{"s":"kT","x":4.4,"y":6.93},{"s":"kT","x":4.85,"y":6.54},{"s":"kT","x":5.1,"y":5.95},{"s":"kT","x":5.35,"y":6.54},{"s":"kT","x":5.8,"y":6.93},{"s":"kT","x":7.71,"y":6.93},{"s":"kT","x":8.16,"y":6.56},{"s":"kT","x":8.41,"y":6.0},{"s":"kT","x":8.66,"y":6.56},{"s":"kT","x":9.11,"y":6.93},{"s":"kT","x":12,"y":7.0},
{"s":"rT","x":-12,"y":5.57},{"s":"rT","x":-8.62,"y":5.49},{"s":"rT","x":-8.22,"y":5.12},{"s":"rT","x":-7.92,"y":4.58},{"s":"rT","x":-7.62,"y":5.12},{"s":"rT","x":-7.22,"y":5.49},{"s":"rT","x":-5.12,"y":5.5},{"s":"rT","x":-4.72,"y":5.21},{"s":"rT","x":-4.42,"y":4.76},{"s":"rT","x":-4.12,"y":5.21},{"s":"rT","x":-3.72,"y":5.5},{"s":"rT","x":-1.65,"y":5.53},{"s":"rT","x":-1.25,"y":5.33},{"s":"rT","x":-0.95,"y":5.04},{"s":"rT","x":-0.65,"y":5.33},{"s":"rT","x":-0.25,"y":5.53},{"s":"rT","x":0.94,"y":5.53},{"s":"rT","x":1.34,"y":5.33},{"s":"rT","x":1.64,"y":5.04},{"s":"rT","x":1.94,"y":5.33},{"s":"rT","x":2.34,"y":5.53},{"s":"rT","x":4.36,"y":5.5},{"s":"rT","x":4.76,"y":5.21},{"s":"rT","x":5.06,"y":4.76},{"s":"rT","x":5.36,"y":5.21},{"s":"rT","x":5.76,"y":5.5},{"s":"rT","x":7.71,"y":5.5},{"s":"rT","x":8.11,"y":5.17},{"s":"rT","x":8.41,"y":4.67},{"s":"rT","x":8.71,"y":5.17},{"s":"rT","x":9.11,"y":5.5},{"s":"rT","x":12,"y":5.57},
{"s":"oT","x":-12,"y":4.17},{"s":"oT","x":-8.62,"y":4.07},{"s":"oT","x":-8.22,"y":3.74},{"s":"oT","x":-7.92,"y":3.3},{"s":"oT","x":-7.62,"y":3.74},{"s":"oT","x":-7.22,"y":4.0},{"s":"oT","x":-5.04,"y":4.05},{"s":"oT","x":-4.64,"y":3.76},{"s":"oT","x":-4.34,"y":3.34},{"s":"oT","x":-4.04,"y":3.76},{"s":"oT","x":-3.64,"y":4.02},{"s":"oT","x":-1.65,"y":4.08},{"s":"oT","x":-1.25,"y":3.85},{"s":"oT","x":-0.95,"y":3.53},{"s":"oT","x":-0.65,"y":3.85},{"s":"oT","x":-0.25,"y":4.06},{"s":"oT","x":0.94,"y":4.06},{"s":"oT","x":1.34,"y":3.85},{"s":"oT","x":1.64,"y":3.53},{"s":"oT","x":1.94,"y":3.85},{"s":"oT","x":2.34,"y":4.08},{"s":"oT","x":4.36,"y":4.02},{"s":"oT","x":4.76,"y":3.76},{"s":"oT","x":5.06,"y":3.34},{"s":"oT","x":5.36,"y":3.76},{"s":"oT","x":5.76,"y":4.05},{"s":"oT","x":7.71,"y":4.02},{"s":"oT","x":8.11,"y":3.78},{"s":"oT","x":8.41,"y":3.39},{"s":"oT","x":8.71,"y":3.78},{"s":"oT","x":9.11,"y":4.08},{"s":"oT","x":12,"y":4.17},
{"s":"gT","x":-12,"y":2.98},{"s":"gT","x":-9.6,"y":2.97},{"s":"gT","x":-9,"y":2.88},{"s":"gT","x":-8.4,"y":2.68},{"s":"gT","x":-8.05,"y":2.45},{"s":"gT","x":-7.72,"y":2.2},{"s":"gT","x":-7.4,"y":2.45},{"s":"gT","x":-6.9,"y":2.63},{"s":"gT","x":-6.2,"y":2.7},{"s":"gT","x":-5.4,"y":2.64},{"s":"gT","x":-4.7,"y":2.48},{"s":"gT","x":-4.34,"y":2.24},{"s":"gT","x":-4,"y":2.48},{"s":"gT","x":-3.3,"y":2.66},{"s":"gT","x":-2.5,"y":2.72},{"s":"gT","x":-1.7,"y":2.62},{"s":"gT","x":-1.25,"y":2.52},{"s":"gT","x":-0.95,"y":2.34},{"s":"gT","x":-0.65,"y":2.52},{"s":"gT","x":0.3,"y":2.72},{"s":"gT","x":1.34,"y":2.52},{"s":"gT","x":1.64,"y":2.34},{"s":"gT","x":1.94,"y":2.52},{"s":"gT","x":2.6,"y":2.67},{"s":"gT","x":3.5,"y":2.72},{"s":"gT","x":4.3,"y":2.64},{"s":"gT","x":4.7,"y":2.48},{"s":"gT","x":5.02,"y":2.24},{"s":"gT","x":5.36,"y":2.48},{"s":"gT","x":6,"y":2.64},{"s":"gT","x":6.8,"y":2.68},{"s":"gT","x":7.6,"y":2.6},{"s":"gT","x":8,"y":2.45},{"s":"gT","x":8.33,"y":2.2},{"s":"gT","x":8.66,"y":2.45},{"s":"gT","x":9.1,"y":2.7},{"s":"gT","x":9.7,"y":2.9},{"s":"gT","x":10.4,"y":2.97},{"s":"gT","x":12,"y":2.98}
],
"FB": [
{"s":"kB","x":-12,"y":7.0},{"s":"kB","x":-8.67,"y":6.87},{"s":"kB","x":-8.32,"y":6.55},{"s":"kB","x":-7.97,"y":6.87},{"s":"kB","x":-5.01,"y":6.9},{"s":"kB","x":-4.66,"y":6.66},{"s":"kB","x":-4.31,"y":6.9},{"s":"kB","x":-1.42,"y":6.95},{"s":"kB","x":-1.07,"y":6.84},{"s":"kB","x":-0.72,"y":6.95},{"s":"kB","x":1.09,"y":6.95},{"s":"kB","x":1.44,"y":6.84},{"s":"kB","x":1.79,"y":6.95},{"s":"kB","x":5.15,"y":6.9},{"s":"kB","x":5.5,"y":6.66},{"s":"kB","x":5.85,"y":6.9},{"s":"kB","x":8.65,"y":6.87},{"s":"kB","x":9,"y":6.55},{"s":"kB","x":9.35,"y":6.87},{"s":"kB","x":12,"y":7.0},
{"s":"rB","x":-12,"y":5.57},{"s":"rB","x":-8.15,"y":5.45},{"s":"rB","x":-7.7,"y":5.17},{"s":"rB","x":-7.25,"y":5.45},{"s":"rB","x":-4.85,"y":5.45},{"s":"rB","x":-4.4,"y":5.15},{"s":"rB","x":-3.95,"y":5.45},{"s":"rB","x":-1.3,"y":5.45},{"s":"rB","x":-0.85,"y":5.12},{"s":"rB","x":-0.4,"y":5.45},{"s":"rB","x":1.15,"y":5.45},{"s":"rB","x":1.6,"y":5.17},{"s":"rB","x":2.05,"y":5.45},{"s":"rB","x":4.75,"y":5.45},{"s":"rB","x":5.2,"y":5.17},{"s":"rB","x":5.65,"y":5.45},{"s":"rB","x":8.3,"y":5.45},{"s":"rB","x":8.75,"y":5.18},{"s":"rB","x":9.2,"y":5.45},{"s":"rB","x":12,"y":5.57},
{"s":"oB1","x":-12,"y":4.17},{"s":"oB1","x":-7.8,"y":4.08},{"s":"oB1","x":-7.4,"y":3.84},{"s":"oB1","x":-7,"y":4.08},{"s":"oB1","x":-4.45,"y":4.08},{"s":"oB1","x":-4.05,"y":3.84},{"s":"oB1","x":-3.65,"y":4.08},{"s":"oB1","x":-1.1,"y":4.08},{"s":"oB1","x":-0.7,"y":3.86},{"s":"oB1","x":-0.3,"y":4.08},{"s":"oB1","x":1.05,"y":4.08},{"s":"oB1","x":1.45,"y":3.86},{"s":"oB1","x":1.85,"y":4.08},{"s":"oB1","x":4.35,"y":4.08},{"s":"oB1","x":4.75,"y":3.84},{"s":"oB1","x":5.15,"y":4.08},{"s":"oB1","x":7.55,"y":4.08},{"s":"oB1","x":7.95,"y":3.84},{"s":"oB1","x":8.35,"y":4.08},{"s":"oB1","x":12,"y":4.17},
{"s":"oB2","x":-12,"y":4.17},{"s":"oB2","x":-8.55,"y":4.11},{"s":"oB2","x":-8.2,"y":3.97},{"s":"oB2","x":-7.85,"y":4.11},{"s":"oB2","x":-4.95,"y":4.11},{"s":"oB2","x":-4.6,"y":3.97},{"s":"oB2","x":-4.25,"y":4.11},{"s":"oB2","x":-1.45,"y":4.12},{"s":"oB2","x":-1.1,"y":4.0},{"s":"oB2","x":-0.75,"y":4.12},{"s":"oB2","x":1.45,"y":4.12},{"s":"oB2","x":1.8,"y":4.0},{"s":"oB2","x":2.15,"y":4.12},{"s":"oB2","x":5,"y":4.11},{"s":"oB2","x":5.35,"y":3.97},{"s":"oB2","x":5.7,"y":4.11},{"s":"oB2","x":8.45,"y":4.11},{"s":"oB2","x":8.8,"y":3.97},{"s":"oB2","x":9.15,"y":4.11},{"s":"oB2","x":12,"y":4.17},
{"s":"gB1","x":-12,"y":2.98},{"s":"gB1","x":-8.1,"y":2.9},{"s":"gB1","x":-7.5,"y":2.63},{"s":"gB1","x":-6.9,"y":2.9},{"s":"gB1","x":-4.8,"y":2.9},{"s":"gB1","x":-4.2,"y":2.63},{"s":"gB1","x":-3.6,"y":2.9},{"s":"gB1","x":-1.45,"y":2.9},{"s":"gB1","x":-0.85,"y":2.66},{"s":"gB1","x":-0.25,"y":2.9},{"s":"gB1","x":0.95,"y":2.9},{"s":"gB1","x":1.55,"y":2.66},{"s":"gB1","x":2.15,"y":2.9},{"s":"gB1","x":4.3,"y":2.9},{"s":"gB1","x":4.9,"y":2.63},{"s":"gB1","x":5.5,"y":2.9},{"s":"gB1","x":7.5,"y":2.9},{"s":"gB1","x":8.1,"y":2.63},{"s":"gB1","x":8.7,"y":2.9},{"s":"gB1","x":12,"y":2.98},
{"s":"gB2","x":-12,"y":2.98},{"s":"gB2","x":-7.5,"y":2.92},{"s":"gB2","x":-6.9,"y":2.73},{"s":"gB2","x":-6.3,"y":2.92},{"s":"gB2","x":-4.4,"y":2.92},{"s":"gB2","x":-3.8,"y":2.73},{"s":"gB2","x":-3.2,"y":2.92},{"s":"gB2","x":-1.2,"y":2.93},{"s":"gB2","x":-0.6,"y":2.76},{"s":"gB2","x":0,"y":2.93},{"s":"gB2","x":0.7,"y":2.93},{"s":"gB2","x":1.3,"y":2.76},{"s":"gB2","x":1.9,"y":2.93},{"s":"gB2","x":3.8,"y":2.92},{"s":"gB2","x":4.4,"y":2.73},{"s":"gB2","x":5,"y":2.92},{"s":"gB2","x":6.9,"y":2.92},{"s":"gB2","x":7.5,"y":2.73},{"s":"gB2","x":8.1,"y":2.92},{"s":"gB2","x":12,"y":2.98}
],
"FO": [
{"s":"kO","x":-12,"y":7.0},{"s":"kO","x":-8.2,"y":6.75},{"s":"kO","x":-7.85,"y":6.0},{"s":"kO","x":-7.5,"y":6.75},{"s":"kO","x":-4.73,"y":6.78},{"s":"kO","x":-4.38,"y":6.1},{"s":"kO","x":-4.03,"y":6.78},{"s":"kO","x":-1.25,"y":6.86},{"s":"kO","x":-0.9,"y":6.45},{"s":"kO","x":-0.55,"y":6.86},{"s":"kO","x":1.31,"y":6.86},{"s":"kO","x":1.66,"y":6.45},{"s":"kO","x":2.01,"y":6.86},{"s":"kO","x":4.7,"y":6.79},{"s":"kO","x":5.05,"y":6.15},{"s":"kO","x":5.4,"y":6.79},{"s":"kO","x":8,"y":6.79},{"s":"kO","x":8.35,"y":6.15},{"s":"kO","x":8.7,"y":6.79},{"s":"kO","x":12,"y":7.0},
{"s":"rO","x":-12,"y":5.57},{"s":"rO","x":-8.25,"y":5.38},{"s":"rO","x":-7.95,"y":4.82},{"s":"rO","x":-7.65,"y":5.38},{"s":"rO","x":-4.75,"y":5.42},{"s":"rO","x":-4.45,"y":4.97},{"s":"rO","x":-4.15,"y":5.42},{"s":"rO","x":-1.27,"y":5.47},{"s":"rO","x":-0.97,"y":5.17},{"s":"rO","x":-0.67,"y":5.47},{"s":"rO","x":1.36,"y":5.47},{"s":"rO","x":1.66,"y":5.17},{"s":"rO","x":1.96,"y":5.47},{"s":"rO","x":4.75,"y":5.42},{"s":"rO","x":5.05,"y":4.97},{"s":"rO","x":5.35,"y":5.42},{"s":"rO","x":8.1,"y":5.4},{"s":"rO","x":8.4,"y":4.89},{"s":"rO","x":8.7,"y":5.4},{"s":"rO","x":12,"y":5.57},
{"s":"gO","x":-12,"y":2.98},{"s":"gO","x":-8.6,"y":2.95},{"s":"gO","x":-8.3,"y":2.86},{"s":"gO","x":-8,"y":2.95},{"s":"gO","x":-5,"y":2.95},{"s":"gO","x":-4.7,"y":2.86},{"s":"gO","x":-4.4,"y":2.95},{"s":"gO","x":-1.5,"y":2.95},{"s":"gO","x":-1.2,"y":2.88},{"s":"gO","x":-0.9,"y":2.95},{"s":"gO","x":1.6,"y":2.95},{"s":"gO","x":1.9,"y":2.88},{"s":"gO","x":2.2,"y":2.95},{"s":"gO","x":5.2,"y":2.95},{"s":"gO","x":5.5,"y":2.86},{"s":"gO","x":5.8,"y":2.95},{"s":"gO","x":8.6,"y":2.95},{"s":"gO","x":8.9,"y":2.86},{"s":"gO","x":9.2,"y":2.95},{"s":"gO","x":12,"y":2.98}
],
"RL": [
{"t":"CoFe₂O₄","s":"k","x":-1.75,"y":6.04},{"t":"Zn₀.₂Co₀.₈Fe₂O₄","s":"r","x":-2.94,"y":4.63},{"t":"Zn₀.₄Co₀.₆Fe₂O₄","s":"o","x":-3.14,"y":3.3},{"t":"Zn₀.₆Co₀.₄Fe₂O₄","s":"g","x":-3.54,"y":2.06},{"t":"Zn₀.₈Co₀.₂Fe₂O₄","s":"b","x":-3.94,"y":0.78},{"t":"ZnFe₂O₄","s":"m","x":-1.75,"y":-0.87}
],
"RA": [
{"t":"T=90 K","x":-12.35,"y":-0.69},{"t":"(b)","x":-16.29,"y":7.18}
]
},
"hconcat": [
{
 "width": 218, "height": 307,
 "resolve": {"axis": {"x": "independent", "y": "independent"}},
 "layer": [
  {"data": {"name": "L"}, "mark": {"type": "line", "strokeWidth": 2.2},
   "encoding": {
    "x": {"field": "x", "type": "quantitative", "scale": {"domain": [-12.1, 12.1], "nice": false, "zero": false},
     "axis": {"orient": "bottom", "title": "Velocity, mm/s", "titlePadding": 3, "values": [-10,-7.5,-5,-2.5,0,2.5,5,7.5,10], "labelExpr": "datum.value % 5 == 0 ? datum.label : ''", "tickSize": {"condition": {"test": "datum.value % 5 == 0", "value": 5}, "value": 3}}},
    "y": {"field": "y", "type": "quantitative", "scale": {"domain": [-0.26, 6.46], "nice": false, "zero": false},
     "axis": {"orient": "left", "title": "intensity, a.u.", "titlePadding": 5, "labels": false, "values": [0,0.5,1,1.5,2,2.5,3,3.5,4,4.5,5,5.5,6], "tickSize": {"condition": {"test": "datum.value % 1 == 0", "value": 5}, "value": 3}}},
    "color": {"field": "s", "type": "nominal", "scale": {"domain": ["k","r","o","g","b","m"], "range": ["#000000","#ff0000","#ff8000","#00f000","#0000ff","#ff00ff"]}, "legend": null}
   }},
  {"data": {"name": "L"}, "mark": {"type": "point", "shape": "square", "filled": true, "size": 8, "opacity": 1},
   "encoding": {
    "x": {"field": "x", "type": "quantitative", "scale": {"domain": [-12.1, 12.1], "nice": false, "zero": false},
     "axis": {"orient": "top", "title": null, "labels": false, "values": [-10,-7.5,-5,-2.5,0,2.5,5,7.5,10], "tickSize": {"condition": {"test": "datum.value % 5 == 0", "value": -5}, "value": -3}}},
    "y": {"field": "y", "type": "quantitative", "scale": {"domain": [-0.26, 6.46], "nice": false, "zero": false},
     "axis": {"orient": "right", "title": null, "labels": false, "values": [0,0.5,1,1.5,2,2.5,3,3.5,4,4.5,5,5.5,6], "tickSize": {"condition": {"test": "datum.value % 1 == 0", "value": -5}, "value": -3}}},
    "color": {"field": "s", "type": "nominal", "scale": {"domain": ["k","r","o","g","b","m"], "range": ["#000000","#ff0000","#ff8000","#00f000","#0000ff","#ff00ff"]}, "legend": null}
   }},
  {"data": {"name": "LL"}, "mark": {"type": "text", "align": "left", "baseline": "middle", "fontSize": 13.5, "color": "#000", "font": "Liberation Sans"},
   "encoding": {
    "x": {"field": "x", "type": "quantitative", "axis": null},
    "y": {"field": "y", "type": "quantitative", "axis": null},
    "text": {"field": "t"}
   }}
 ]
},
{
 "width": 216, "height": 307,
 "resolve": {"axis": {"x": "independent", "y": "independent"}},
 "layer": [
  {"data": {"name": "RP"}, "mark": {"type": "point", "shape": "circle", "filled": true, "size": 13, "opacity": 1},
   "encoding": {
    "x": {"field": "x", "type": "quantitative", "scale": {"domain": [-13.1, 12.75], "nice": false, "zero": false},
     "axis": {"orient": "bottom", "title": "Velocity, mm/s", "titlePadding": 3, "titleX": 128, "values": [-12.5,-10,-7.5,-5,-2.5,0,2.5,5,7.5,10,12.5], "labelExpr": "datum.value % 5 == 0 ? datum.label : ''", "tickSize": {"condition": {"test": "datum.value % 5 == 0", "value": 5}, "value": 3}}},
    "y": {"field": "y", "type": "quantitative", "scale": {"domain": [-1.02, 7.41], "nice": false, "zero": false},
     "axis": {"orient": "left", "title": "Intensity, a.u.", "titlePadding": 0, "labels": false, "values": [-0.5,0,0.5,1,1.5,2,2.5,3,3.5,4,4.5,5,5.5,6,6.5,7], "tickSize": {"condition": {"test": "datum.value % 1 == 0", "value": 5}, "value": 3}}},
    "color": {"field": "s", "type": "nominal", "scale": {"domain": ["k","r","o","g","b","m"], "range": ["#000000","#ff0000","#ff8000","#00f000","#0000ff","#ff00ff"]}, "legend": null}
   }},
  {"data": {"name": "FB"}, "mark": {"type": "line", "strokeWidth": 0.9, "color": "#0000ff", "interpolate": "monotone"},
   "encoding": {
    "x": {"field": "x", "type": "quantitative", "scale": {"domain": [-13.1, 12.75], "nice": false, "zero": false},
     "axis": {"orient": "top", "title": null, "labels": false, "values": [-12.5,-10,-7.5,-5,-2.5,0,2.5,5,7.5,10,12.5], "tickSize": {"condition": {"test": "datum.value % 5 == 0", "value": -5}, "value": -3}}},
    "y": {"field": "y", "type": "quantitative", "scale": {"domain": [-1.02, 7.41], "nice": false, "zero": false},
     "axis": {"orient": "right", "title": null, "labels": false, "values": [-0.5,0,0.5,1,1.5,2,2.5,3,3.5,4,4.5,5,5.5,6,6.5,7], "tickSize": {"condition": {"test": "datum.value % 1 == 0", "value": -5}, "value": -3}}},
    "detail": {"field": "s", "type": "nominal"}
   }},
  {"data": {"name": "FO"}, "mark": {"type": "line", "strokeWidth": 0.9, "color": "#ff9900", "interpolate": "monotone"},
   "encoding": {
    "x": {"field": "x", "type": "quantitative", "axis": null},
    "y": {"field": "y", "type": "quantitative", "axis": null},
    "detail": {"field": "s", "type": "nominal"}
   }},
  {"data": {"name": "FT"}, "mark": {"type": "line", "strokeWidth": 1.3, "color": "#ff0000", "interpolate": "monotone"},
   "encoding": {
    "x": {"field": "x", "type": "quantitative", "axis": null},
    "y": {"field": "y", "type": "quantitative", "axis": null},
    "detail": {"field": "s", "type": "nominal"}
   }},
  {"data": {"name": "RL"}, "mark": {"type": "text", "align": "left", "baseline": "middle", "fontSize": 10, "font": "Liberation Sans"},
   "encoding": {
    "x": {"field": "x", "type": "quantitative", "axis": null},
    "y": {"field": "y", "type": "quantitative", "axis": null},
    "text": {"field": "t"},
    "color": {"field": "s", "type": "nominal", "scale": {"domain": ["k","r","o","g","b","m"], "range": ["#000000","#ff0000","#ff8000","#00f000","#0000ff","#ff00ff"]}, "legend": null}
   }},
  {"data": {"name": "RA"}, "mark": {"type": "text", "align": "left", "baseline": "middle", "fontSize": 14, "color": "#000", "font": "Liberation Sans"},
   "encoding": {
    "x": {"field": "x", "type": "quantitative", "axis": null},
    "y": {"field": "y", "type": "quantitative", "axis": null},
    "text": {"field": "t"}
   }}
 ]
}
]
}
